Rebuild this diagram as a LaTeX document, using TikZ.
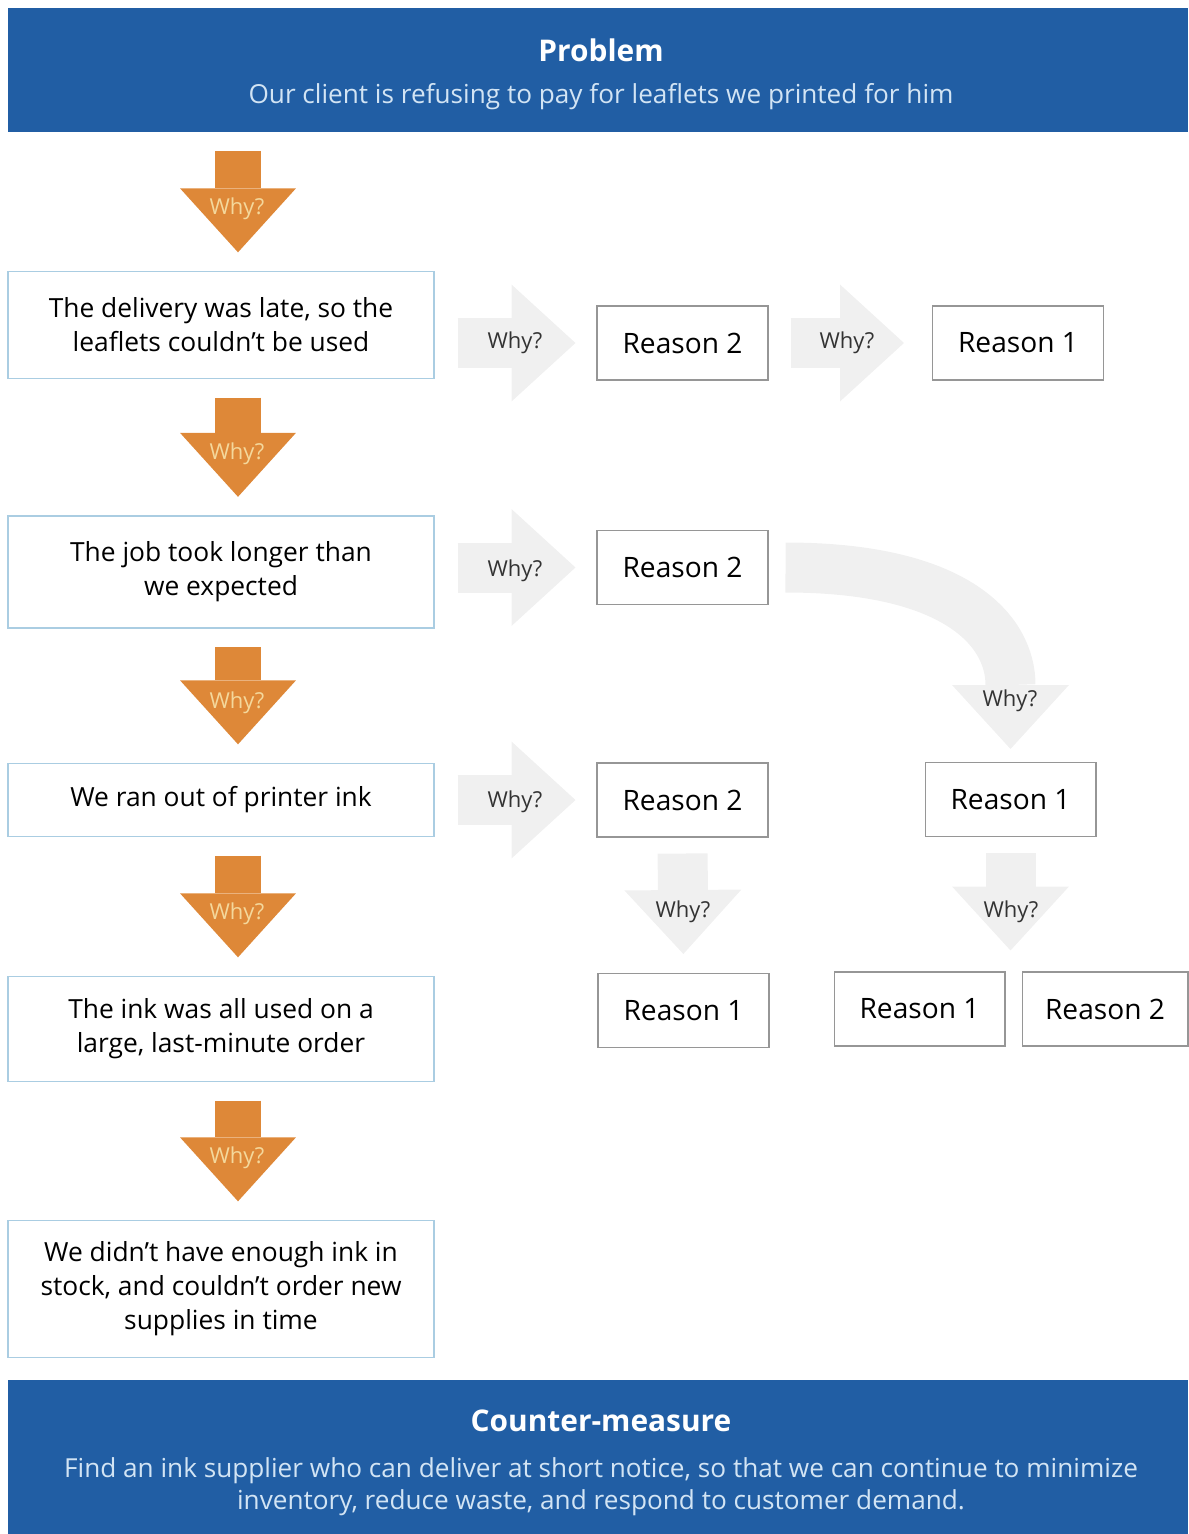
\documentclass[tikz,border=0pt]{standalone}
\usepackage{fontspec}
\setmainfont{Open Sans}
\usetikzlibrary{arrows.meta,calc}

\definecolor{bannerblue}{RGB}{33,94,164}
\definecolor{subtext}{RGB}{210,228,244}
\definecolor{whyorange}{RGB}{222,136,56}
\definecolor{whycream}{RGB}{244,216,156}
\definecolor{arrowgray}{RGB}{240,240,240}
\definecolor{stepline}{RGB}{170,205,226}
\definecolor{reasonline}{RGB}{150,150,150}

\tikzset{
  banner/.style={fill=bannerblue, minimum width=23.6cm, inner sep=0pt},
  bannertitle/.style={text=white, font=\fontsize{17}{20}\selectfont\bfseries},
  bannertext/.style={text=subtext, align=center, font=\fontsize{14.9}{18.2}\selectfont},
  stepbox/.style={draw=stepline, line width=0.8pt, fill=white, minimum width=8.52cm,
    align=center, font=\fontsize{15}{19.4}\selectfont},
  reasonbox/.style={draw=reasonline, line width=0.6pt, fill=white, minimum width=3.42cm,
    minimum height=1.48cm, font=\fontsize{16}{18}\selectfont},
  whyarrow/.style={whyorange, line width=0.92cm,
    -{Triangle[width=2.32cm, length=1.28cm, line width=0pt]},
    shorten <=0.37cm, shorten >=0.37cm},
  grayarrow/.style={arrowgray, line width=1.0cm,
    -{Triangle[width=2.34cm, length=1.28cm, line width=0pt]}},
  whyin/.style={text=whycream, font=\fontsize{12.5}{14}\selectfont},
  whyout/.style={text=black!80, font=\fontsize{12.5}{14}\selectfont}
}

\begin{document}
\begin{tikzpicture}[x=0.02cm, y=-0.02cm]
    \useasboundingbox (0,0) rectangle (1188,1534);

    % Problem banner
    \node[banner, minimum height=2.48cm] (problem) at (598,70) {};
    \node[bannertitle] (probtitle) at (601,50) {Problem};
    \node[bannertext] (probtext) at (601,97) {Our client is refusing to pay for leaflets we printed for him};

    % Left column of answers
    \node[stepbox, minimum height=2.14cm] (delivery) at (221,325) {The delivery was late, so the\\leaflets couldn't be used};
    \node[stepbox, minimum height=2.24cm] (longjob) at (221,572) {The job took longer than\\we expected};
    \node[stepbox, minimum height=1.46cm] (noink) at (221,800) {We ran out of printer ink};
    \node[stepbox, minimum height=2.1cm] (usedup) at (221,1029) {The ink was all used on a\\large, last-minute order};
    \node[stepbox, minimum height=2.74cm] (nostock) at (221,1289) {We didn't have enough ink in\\stock, and couldn't order new\\supplies in time};

    % Orange why arrows
    \draw[whyarrow] ($(problem.south -| delivery.north)+(17,0)$) -- ($(delivery.north)+(17,0)$);
    \draw[whyarrow] ($(delivery.south)+(17,0)$) -- ($(longjob.north)+(17,0)$);
    \draw[whyarrow] ($(longjob.south)+(17,0)$) -- ($(noink.north)+(17,0)$);
    \draw[whyarrow] ($(noink.south)+(17,0)$) -- ($(usedup.north)+(17,0)$);
    \draw[whyarrow] ($(usedup.south)+(17,0)$) -- ($(nostock.north)+(17,0)$);
    \node[whyin] (whya) at (237,209) {Why?};
    \node[whyin] (whyb) at (237,454) {Why?};
    \node[whyin] (whyc) at (237,703) {Why?};
    \node[whyin] (whyd) at (237,914) {Why?};
    \node[whyin] (whye) at (237,1158) {Why?};

    % Other reasons
    \node[reasonbox] (reasonAb) at (682.5,343) {Reason 2};
    \node[reasonbox] (reasonAa) at (1018,343) {Reason 1};
    \node[reasonbox] (reasonBb) at (682.5,567.5) {Reason 2};
    \node[reasonbox] (reasonCb) at (682.5,800) {Reason 2};
    \node[reasonbox] (reasonCa) at (1010.5,799.5) {Reason 1};
    \node[reasonbox] (reasonDa) at (683.5,1010.5) {Reason 1};
    \node[reasonbox] (reasonEa) at (919.5,1009) {Reason 1};
    \node[reasonbox, minimum width=3.32cm] (reasonEb) at (1105,1009) {Reason 2};
    \coordinate (splitE) at (reasonCa.south |- reasonEa.north);

    % Gray why arrows
    \draw[grayarrow, shorten <=0.46cm, shorten >=0.42cm] (delivery.east |- reasonAb.west) -- (reasonAb.west);
    \draw[grayarrow, shorten <=0.44cm, shorten >=0.56cm] (reasonAb.east) -- (reasonAa.west);
    \draw[grayarrow, shorten <=0.46cm, shorten >=0.42cm] (longjob.east |- reasonBb.west) -- (reasonBb.west);
    \draw[grayarrow, shorten <=0.46cm, shorten >=0.42cm] (noink.east |- reasonCb.west) -- (reasonCb.west);
    \draw[grayarrow, shorten <=0.32cm, shorten >=0.38cm] (reasonCb.south) -- (reasonDa.north);
    \draw[grayarrow, shorten <=0.32cm, shorten >=0.42cm] (reasonCa.south) -- (splitE);
    \draw[grayarrow, shorten <=0.34cm, shorten >=0.26cm] (reasonBb.east)
        .. controls +(190,0) and +(0,-130) .. (reasonCa.north);
    \node[whyout] (whyAb) at (515,343) {Why?};
    \node[whyout] (whyAa) at (847,343) {Why?};
    \node[whyout] (whyBb) at (515,571) {Why?};
    \node[whyout] (whyCb) at (515,802) {Why?};
    \node[whyout] (whyBc) at (1010,701) {Why?};
    \node[whyout] (whyDa) at (683,912) {Why?};
    \node[whyout] (whyEa) at (1011,912) {Why?};

    % Counter-measure banner
    \node[banner, minimum height=3.08cm] (counter) at (598,1457) {};
    \node[bannertitle] (countertitle) at (601,1421) {Counter-measure};
    \node[bannertext] (countertext) at (601,1487) {Find an ink supplier who can deliver at short notice, so that we can continue to minimize\\inventory, reduce waste, and respond to customer demand.};
\end{tikzpicture}
\end{document}
